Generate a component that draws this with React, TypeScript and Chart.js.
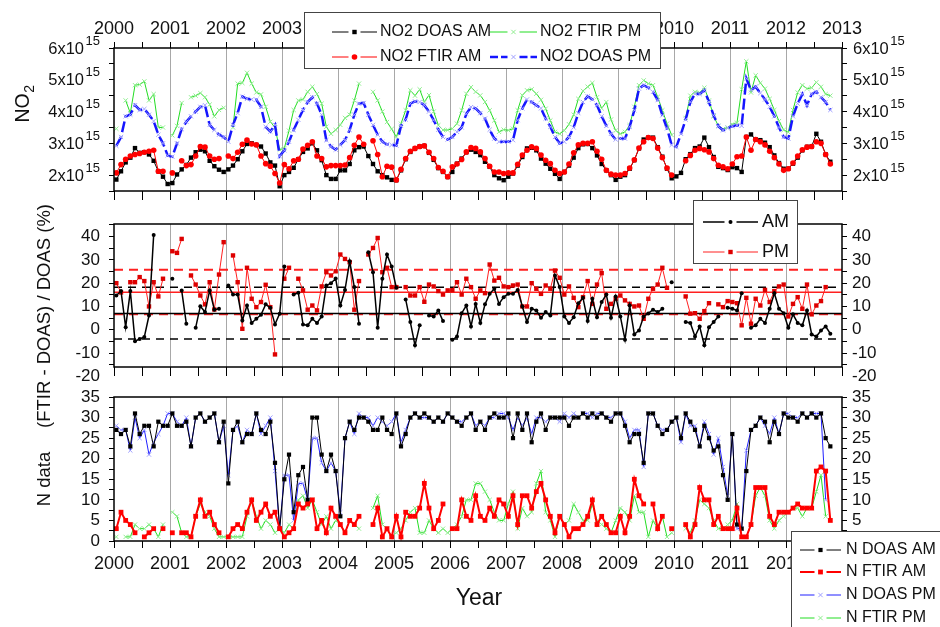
import React, { useEffect, useRef } from 'react';
import { Chart, registerables } from 'chart.js';

Chart.register(...registerables);

const FONT = '"Liberation Sans", Arial, Helvetica, sans-serif';

// ---------- categories / ticks ----------
const FIRST_YEAR = 2000;
const LAST_YEAR = 2013;
const N_MONTHS = 156; // Jan 2000 .. Dec 2012
const MONTH_X: number[] = Array.from({ length: N_MONTHS }, (_, i) => FIRST_YEAR + (i + 0.5) / 12);
const X_TICKS: number[] = [];
for (let v = FIRST_YEAR; v <= LAST_YEAR + 1e-9; v += 0.5) X_TICKS.push(v);

const TOP_Y_TICKS = [1.5, 2, 2.5, 3, 3.5, 4, 4.5, 5, 5.5, 6];
const TOP_Y_LABELS = [2, 3, 4, 5, 6]; // x10^15
const MID_Y_TICKS = [-15, -10, -5, 0, 5, 10, 15, 20, 25, 30, 35, 40, 45];
const MID_EXTRA_LABEL = -20;
const BOT_Y_TICKS = [0, 2.5, 5, 7.5, 10, 12.5, 15, 17.5, 20, 22.5, 25, 27.5, 30, 32.5, 35];

// ---------- top panel: NO2 columns (units of 1e15) ----------
const NO2_DOAS_AM = [
  1.86, 2.12, 2.4, 2.55, 2.85, 2.7, 2.72, 2.65, 2.45, 2.12, 1.95, 1.72,
  1.75, 2.02, 2.18, 2.32, 2.55, 2.72, 2.8, 2.75, 2.45, 2.28, 2.17, 2.1,
  2.18, 2.3, 2.5, 2.75, 2.98, 3.0, 2.95, 2.9, 2.68, 2.4, 2.3, 1.65,
  2.0, 2.1, 2.23, 2.5, 2.73, 2.84, 3.0, 2.78, 2.47, 2.0, 1.88, 1.88,
  2.15, 2.15, 2.35, 2.78, 2.88, 2.9, 2.6, 2.35, 2.12, 2.0, 1.93, 1.85,
  1.84, 2.15, 2.5, 2.73, 2.84, 2.9, 2.92, 2.7, 2.48, 2.22, 2.1, 1.94,
  2.1, 2.36, 2.52, 2.72, 2.8, 2.73, 2.63, 2.42, 2.26, 2.0, 1.9, 1.84,
  1.95, 2.05, 2.3, 2.57, 2.84, 2.86, 2.78, 2.52, 2.36, 2.2, 2.04, 1.88,
  2.1, 2.3, 2.55, 2.85, 2.97, 2.98, 2.85, 2.62, 2.35, 2.15, 2.0, 1.85,
  1.95, 2.0, 2.2, 2.47, 2.84, 3.12, 3.18, 3.18, 2.88, 2.58, 2.2, 1.9,
  1.96, 2.07, 2.5, 2.66, 2.85, 2.9, 3.18, 2.88, 2.57, 2.26, 2.22, 2.16,
  2.25, 2.22, 2.1, 3.2, 3.28, 3.12, 3.1, 3.02, 2.88, 2.62, 2.38, 2.2,
  2.2, 2.36, 2.55, 2.78, 2.89, 2.9, 3.3, 3.05, 2.65, 2.42, null, null,
];
const NO2_FTIR_AM = [
  2.07, 2.33, 2.5, 2.6, 2.65, 2.68, 2.72, 2.75, 2.78, 2.12, 2.12, null,
  2.07, null, 2.45, 2.3, 2.33, 2.6, 2.9, 2.88, 2.6, 2.5, 2.52, null,
  2.6, 2.52, 2.72, 2.97, 3.1, 2.98, 2.95, 2.6, 2.36, 2.28, 2.05, 1.75,
  2.33, 2.2, 2.45, 2.5, 2.82, 2.94, 3.05, 2.6, 2.52, 2.26, 2.3, 2.3,
  2.3, 2.32, 2.55, 2.94, 3.2, 2.97, null, 3.08, 2.65, 1.95, 2.28, 2.25,
  1.85, 2.18, 2.52, 2.75, 2.84, 2.9, 2.92, 2.72, 2.52, 2.24, 2.12, 1.95,
  2.26, 2.35, 2.49, 2.73, 2.87, 2.84, 2.73, 2.52, 2.28, 2.1, 2.1, 2.05,
  2.07, 2.07, 2.34, 2.63, 2.78, 2.89, 2.84, 2.63, 2.47, 2.36, 2.15, 2.05,
  2.1, 2.35, 2.7, 2.95, 3.0, 3.0, 3.05, 2.75, 2.5, 2.15, 2.03, 2.0,
  2.0, 2.05, 2.22, 2.48, 2.85, 3.05, 3.18, 3.15, 2.85, 2.55, 2.22, 2.0,
  null, null, 2.45, 2.62, 2.78, 2.84, 2.8, 2.73, 2.52, 2.31, 2.26, 2.2,
  2.35, 2.58, 2.6, 3.2, 2.78, 3.12, 3.05, 2.95, 2.75, 2.55, 2.35, 2.15,
  2.2, 2.38, 2.6, 2.8, 2.88, 2.9, 3.05, 3.0, 2.65, 2.35, null, null,
];
const NO2_DOAS_PM = [
  2.92, 3.2, 3.85, 3.9, 4.2, 4.05, 4.08, 3.9, 3.7, 3.27, 3.0, 2.62,
  2.58, 3.0, 3.45, 3.68, 3.85, 4.0, 4.15, 4.2, 3.58, 3.42, 3.27, 3.2,
  3.05, 3.58, 3.95, 4.47, 4.4, 4.38, 4.37, 4.15, 3.52, 3.37, 3.58, 2.6,
  2.78, 3.05, 3.42, 3.74, 4.05, 4.3, 4.45, 4.25, 3.9, 3.1, 2.9, 2.8,
  2.95, 3.1, 3.42, 3.9, 4.25, 4.27, 3.9, 3.58, 3.27, 3.05, 2.97, 2.95,
  2.93, 3.55, 3.75, 4.25, 4.32, 4.3, 4.2, 4.0, 3.73, 3.43, 3.2, 3.12,
  3.2, 3.36, 3.5, 3.93, 4.14, 4.1, 3.95, 3.78, 3.43, 3.15, 3.05, 3.05,
  3.05, 3.1, 3.73, 4.1, 4.38, 4.3, 4.2, 4.1, 3.78, 3.52, 3.2, 3.0,
  3.05, 3.2, 3.5, 3.95, 4.3, 4.48, 4.38, 4.2, 3.85, 3.55, 3.3, 3.12,
  3.15, 3.15, 3.52, 4.04, 4.72, 4.83, 4.75, 4.62, 4.36, 3.88, 3.47, 2.95,
  2.89, 3.3, 3.75, 4.3, 4.56, 4.55, 4.67, 4.3, 3.88, 3.54, 3.41, 3.48,
  3.54, 3.57, 3.55, 5.04, 4.67, 4.78, 4.58, 4.38, 4.15, 3.85, 3.5, 3.2,
  3.15, 3.85, 4.25, 4.55, 4.2, 4.55, 4.62, 4.45, 4.3, 4.05, null, null,
];
const NO2_FTIR_PM = [
  3.46, null, 4.35, 3.95, 4.83, 4.85, 4.95, 4.35, 4.55, 3.5, 3.5, null,
  3.25, 3.55, 4.27, null, 4.45, 4.5, 4.58, 4.45, 4.22, 3.85, 4.05, 4.12,
  null, 3.5, 4.88, 4.9, 5.22, 4.88, 4.6, 4.54, 4.15, 3.68, 3.5, 2.8,
  2.85, 3.4, 4.05, 4.35, 4.38, 4.62, 4.78, 4.55, 4.25, 3.52, 3.3, 3.42,
  3.58, 3.8, 3.9, 4.35, 4.88, null, null, 4.62, 4.35, 4.0, 3.67, 3.45,
  3.2, 3.62, 4.04, 4.67, 4.5, 4.7, 4.3, 4.52, 4.0, 3.57, 3.42, 3.42,
  3.46, 3.62, 4.04, 4.56, 4.77, 4.62, 4.51, 4.3, 4.04, 3.72, 3.36, 3.43,
  3.41, 3.46, 4.04, 4.51, 4.67, 4.7, 4.56, 4.37, 4.09, 3.72, 3.36, 3.3,
  3.4, 3.6, 3.9, 4.4, 4.65, 4.78, 4.9, 4.45, 4.1, 4.3, 3.75, 3.4,
  3.3, 3.36, 3.57, 4.15, 4.83, 4.98, 4.88, 4.83, 4.46, 4.04, 3.62, 3.26,
  null, null, 3.8, 4.5, 4.62, 4.6, 4.75, 4.35, 3.85, 3.55, 3.45, 3.5,
  3.6, 3.65, 4.7, 5.58, 4.6, 5.14, 4.9, 4.72, 4.4, 4.05, 3.7, 3.42,
  3.35, 4.05, 4.6, 4.83, 4.72, 4.75, 4.92, 4.78, 4.55, 4.5, null, null,
];

// ---------- middle panel: relative difference (%) ----------
const DIFF_AM = [
  14.7, 16.6, 1.1, 16.6, -4.9, -4, -3.1, 6.1, 40.7, null, null, null,
  21.9, null, 16.9, 2.6, null, 0.9, 10.1, 7.6, 16.9, 8.6, 9.0, null,
  19, 15.1, 15.1, 4, 10.4, 2.9, 4.7, 6.4, 10.9, 9.4, 2.3, 6.9,
  27.1, null, 15.1, 15.9, 2.3, 1.9, 4.7, 2.9, 5.7, 19, 20, 22,
  10.4, 17.1, 29.4, 18.3, 2.6, null, 33.3, 24.7, 0.9, 21.9, 32.3, 27.1,
  18, null, 13, 3.3, -6.7, 1.9, null, 6.1, 5.7, 8.3, 3.7, null,
  -4.3, -2.9, 7.1, 10.4, 1.4, 11.1, 2.9, 10.9, 15.4, 17.6, 11.1, 14,
  15.4, 15.4, 17.1, 10, 3.3, 9, 8.3, 5.1, 7.6, 6.1, 23.3, 18.3,
  5.7, 2.9, 5.4, 11.4, 13.7, 3.7, 13.3, 5.4, 11.9, 15.1, 5.1, 14.3,
  5.7, -4.3, 10.4, -2, -0.3, 5.7, 7, 8.6, 7.6, 9, null, 20.4,
  null, null, 3.3, 2.9, -2.9, 1.4, -6.7, 1.1, 3.3, 5.7, null, 9.4,
  9, 8.3, 15.7, null, 0.9, 1.9, 4.7, 2.9, 9, 15.7, 9, 7.1,
  0.9, 6.6, 2.9, 1.9, 8.3, -2, -2.9, -0.3, 1.4, -1.7, null, null,
];
const DIFF_PM = [
  20, 16, null, 20.4, 20.4, 22.6, 20.9, 10, 20.4, 14.3, 21.9, null,
  33.7, 33, 39, null, 23.3, 19.4, 14.7, 10.9, 20.4, 8.7, 23.7, 37.6,
  null, 31.9, 20.4, 0.4, 26.6, 13.3, 9.7, 11.9, 19.3, 9.7, -10.6, null,
  21.9, 26.6, null, 21.9, 16.9, 8.6, 10.4, 8.3, 18.6, 24.7, 23.3, 25.1,
  32.3, 30.4, 29, 8.6, 20.9, null, 32.3, 35.1, 39.4, 24.7, 26.6, 18.3,
  18.3, null, 18.3, 14.7, 14.7, 18.3, 12, 19.4, 18.6, 16.6, 15.1, 16.9,
  17, 20.4, 15.1, 21.9, 18.3, 13.3, 16.9, 15.7, 28, 21.1, 22.3, 18.6,
  18.3, 19, 19.4, 10, 10, 20, 17.6, 15.4, 19, 17.6, 25.4, 22.3,
  15.1, 18.6, 13.7, 9.7, 14, 20.9, 11.1, 19.4, 24.3, 9, 11.1, 13.3,
  14.7, 12.6, 11.1, 10, 10.4, 4.7, 13.3, 17.6, 19.4, 26.6, 18, null,
  null, null, 14.3, 6.9, 7.1, 4.7, 8, 11.4, null, 10.9, 9.7, 12.3,
  11.9, 11.4, 1.9, 13.7, 2.6, 13.3, 10.4, 17.1, 11.9, 16.6, 18.6, 19.4,
  5.7, 11.1, 14, 9, 19.4, 6.6, 10.4, 12.3, 18.3, null, null, null,
];
const AM_MEAN = 7.0;
const AM_LIMITS = [18.2, -4.0];
const PM_MEAN = 16.1;
const PM_LIMITS = [25.8, 6.6];

// ---------- bottom panel: number of data ----------
const N_DOAS_AM = [
  27, 26, 27, 23, 31, 26, 28, 28, 23, 29, 28, 28,
  31, 28, 28, 29, 23, 30, 31, 29, 30, 31, 24, 29,
  14, 27, 29, 24, 26, 26, 31, 27, 26, 29, 19, 3,
  15, 21, 7, 16, 18, 10, 30, 30, 21, 17, 21, 17,
  6, 25, 29, 27, 30, 30, 29, 27, 27, 30, 27, 26,
  31, 23, 26, 30, 31, 30, 31, 30, 29, 30, 29, 31,
  30, 29, 28, 30, 31, 27, 29, 27, 30, 31, 30, 30,
  31, 25, 31, 27, 31, 24, 29, 31, 27, 30, 30, 30,
  30, 28, 30, 30, 31, 30, 31, 30, 31, 30, 29, 31,
  31, 28, 24, 26, 26, 19, 31, 31, 28, 26, 27, 29,
  30, 25, 31, 29, 27, 23, 28, 25, 22, 23, 16, 10,
  26, 4, 3, 17, 27, 28, 30, 29, 24, 29, 26, 31,
  30, 30, 29, 31, 30, 31, 30, 31, 25, 23, null, null,
];
const N_FTIR_AM = [
  3, 7, 5, 4, 2, null, 1, 2, 3, null, 3, null,
  2, null, 2, 2, 1, 6, 10, 6, 7, 4, 2, null,
  1, 3, 4, 3, 7, 10, 5, 7, 9, 6, 7, 3,
  1, 2, 3, 9, 8, 9, 10, 3, 5, 2, 8, 6,
  4, 2, 5, 4, 6, null, null, 4, 8, 1, 3, 1,
  6, 1, 7, 6, 6, 8, 14, 8, 3, 5, 9, null,
  3, 3, 10, 6, 5, 11, 6, 5, 8, 6, 10, 9,
  6, 11, 4, 11, 11, 8, 12, 14, 10, 6, 2, 6,
  4, 1, 3, 3, 4, 6, 10, 4, 6, 4, 2, 2,
  6, 2, 6, 15, 11, 9, null, 9, 3, 6, null, 3,
  null, null, 4, 1, 4, 13, 10, 10, 4, 6, 3, 3,
  3, 8, 1, 1, 4, 13, 13, 13, 6, 4, 7, 7,
  7, 8, 9, 8, 8, 8, 17, 18, 17, 5, null, null,
];
const N_DOAS_PM = [
  28, 27, 27, 22, 30, 25, 27, 21, 24, 26, 28, 31,
  31, 29, 28, 30, 23, 30, 31, 29, 30, 31, 24, 28,
  16, 27, 28, 24, 27, 26, 31, 26, 28, 30, 17, 3,
  16, 16, 5, 14, 14, 10, 25, 25, 19, 17, 19, 17,
  7, 25, 29, 26, 31, 30, 30, 28, 30, 29, 28, 29,
  31, 24, 27, 30, 31, 30, 30, 30, 29, 30, 29, 31,
  30, 29, 29, 30, 31, 28, 29, 28, 30, 30, 31, 31,
  30, 27, 30, 28, 30, 26, 30, 30, 29, 30, 30, 29,
  31, 30, 31, 30, 31, 31, 30, 31, 31, 30, 30, 31,
  31, 29, 25, 27, 27, 18, 31, 31, 28, 27, 27, 29,
  30, 24, 31, 28, 28, 23, 29, 26, 21, 25, 18, 11,
  26, 3, 3, 22, 27, 28, 30, 28, 26, 30, 26, 31,
  31, 30, 30, 31, 30, 31, 31, 31, 10, null, null, null,
];
const N_FTIR_PM = [
  1, null, 1, 1, 4, 3, 3, 4, 3, 1, 4, null,
  7, 6, 2, 1, 1, 6, 9, 7, 6, 3, 1, 1,
  1, 1, 1, 1, 6, 10, 6, 3, 5, 4, 2, 3,
  2, 4, 3, 10, 11, 8, 10, 7, 4, 6, 3, 5,
  4, 2, 5, 4, 3, null, null, 8, 11, 4, 3, 1,
  2, 3, 5, 7, 8, 2, 2, 5, 3, 2, 3, 2,
  3, 4, 6, 10, 10, 14, 14, 12, 10, 7, 5, 5,
  9, 12, 3, 8, 6, 7, 14, 17, 7, 5, 1, 6,
  4, 5, 9, 7, 5, 5, 9, 5, 4, 3, 2, 5,
  8, 7, 5, 11, 7, 7, 1, 5, 3, 6, 1, 2,
  null, null, 3, 2, 5, 10, 9, 8, 5, 3, 3, 4,
  5, 9, 1, 1, 4, 11, 13, 11, 5, 3, 5, 6,
  7, 8, 8, 6, 8, 8, 12, 16, 6, null, null, null,
];

// ---------- styles ----------
type Sty = { line: string; width: number; dash: number[]; marker: 'rect' | 'circle' | 'x'; mColor: string; mSize: number };
const ST_DOAS_AM: Sty = { line: '#000000', width: 1, dash: [], marker: 'rect', mColor: '#000000', mSize: 2.2 };
const ST_FTIR_AM: Sty = { line: '#ff0000', width: 1, dash: [], marker: 'circle', mColor: '#ff0000', mSize: 2.8 };
const ST_DOAS_PM: Sty = { line: '#1515ff', width: 2.5, dash: [11, 4], marker: 'x', mColor: '#a0a0ff', mSize: 3 };
const ST_FTIR_PM: Sty = { line: '#22dd22', width: 1, dash: [], marker: 'x', mColor: '#90ee90', mSize: 3 };
const ST_MID_AM: Sty = { line: '#000000', width: 1.5, dash: [], marker: 'circle', mColor: '#000000', mSize: 2 };
const ST_MID_PM: Sty = { line: '#ff2020', width: 1, dash: [], marker: 'rect', mColor: '#dd0000', mSize: 2.2 };
const ST_N_DOAS_AM: Sty = { line: '#000000', width: 1, dash: [], marker: 'rect', mColor: '#000000', mSize: 2.1 };
const ST_N_FTIR_AM: Sty = { line: '#ff0000', width: 2, dash: [], marker: 'rect', mColor: '#ff0000', mSize: 2.4 };
const ST_N_DOAS_PM: Sty = { line: '#2020ff', width: 1, dash: [], marker: 'x', mColor: '#a0a0ff', mSize: 3 };
const ST_N_FTIR_PM: Sty = { line: '#22dd22', width: 1, dash: [], marker: 'x', mColor: '#90ee90', mSize: 3 };

const pts = (arr: (number | null)[]) => arr.map((v, i) => ({ x: MONTH_X[i], y: v }));
const hline = (v: number) => [{ x: FIRST_YEAR, y: v }, { x: LAST_YEAR, y: v }];

function ds(label: string, arr: (number | null)[], s: Sty) {
  const chartStyle = s.marker === 'x' ? 'crossRot' : s.marker === 'rect' ? 'rect' : 'circle';
  const r = s.marker === 'rect' ? s.mSize * 1.414 : s.mSize;
  return {
    label,
    data: pts(arr),
    borderColor: s.line,
    borderWidth: s.width,
    borderDash: s.dash,
    pointStyle: chartStyle,
    pointRadius: r,
    pointBackgroundColor: s.mColor,
    pointBorderColor: s.mColor,
    pointBorderWidth: s.marker === 'x' ? 1 : 0,
    spanGaps: false,
    tension: 0,
    fill: false,
    xAxisID: 'x',
    yAxisID: 'y',
  };
}
function refLine(v: number, color: string, width: number, dash: number[]) {
  return {
    label: 'ref',
    data: hline(v),
    borderColor: color,
    borderWidth: width,
    borderDash: dash,
    pointRadius: 0,
    fill: false,
    xAxisID: 'x',
    yAxisID: 'y',
  };
}

// ---------- drawing helpers ----------
function drawMarker(ctx: CanvasRenderingContext2D, s: Sty, x: number, y: number) {
  ctx.save();
  ctx.setLineDash([]);
  if (s.marker === 'rect') {
    ctx.fillStyle = s.mColor;
    ctx.fillRect(x - s.mSize, y - s.mSize, s.mSize * 2, s.mSize * 2);
  } else if (s.marker === 'circle') {
    ctx.fillStyle = s.mColor;
    ctx.beginPath();
    ctx.arc(x, y, s.mSize, 0, Math.PI * 2);
    ctx.fill();
  } else {
    ctx.strokeStyle = s.mColor;
    ctx.lineWidth = 1;
    const d = s.mSize * 0.72;
    ctx.beginPath();
    ctx.moveTo(x - d, y - d); ctx.lineTo(x + d, y + d);
    ctx.moveTo(x - d, y + d); ctx.lineTo(x + d, y - d);
    ctx.stroke();
  }
  ctx.restore();
}
function drawSample(ctx: CanvasRenderingContext2D, s: Sty, x0: number, x1: number, y: number) {
  const mid = (x0 + x1) / 2;
  ctx.save();
  ctx.strokeStyle = s.line;
  ctx.lineWidth = s.width;
  ctx.setLineDash(s.dash.length ? [8, 3] : []);
  ctx.beginPath();
  ctx.moveTo(x0, y); ctx.lineTo(mid - 6, y);
  ctx.moveTo(mid + 6, y); ctx.lineTo(x1, y);
  ctx.stroke();
  ctx.restore();
  drawMarker(ctx, s, mid, y);
}
function drawBox(ctx: CanvasRenderingContext2D, x: number, y: number, w: number, h: number) {
  ctx.save();
  ctx.fillStyle = '#ffffff';
  ctx.fillRect(x, y, w, h);
  ctx.strokeStyle = '#444444';
  ctx.lineWidth = 1;
  ctx.strokeRect(x + 0.5, y + 0.5, w, h);
  ctx.restore();
}
function text(ctx: CanvasRenderingContext2D, t: string, x: number, y: number, size: number, align: CanvasTextAlign = 'left') {
  ctx.save();
  ctx.fillStyle = '#111111';
  ctx.font = `${size}px ${FONT}`;
  ctx.textAlign = align;
  ctx.textBaseline = 'middle';
  ctx.fillText(t, x, y);
  ctx.restore();
}
function vtext(ctx: CanvasRenderingContext2D, t: string, cx: number, cy: number, size: number) {
  ctx.save();
  ctx.translate(cx, cy);
  ctx.rotate(-Math.PI / 2);
  ctx.fillStyle = '#111111';
  ctx.font = `${size}px ${FONT}`;
  ctx.textAlign = 'center';
  ctx.textBaseline = 'middle';
  ctx.fillText(t, 0, 0);
  ctx.restore();
}
function frame(chart: any) {
  const a = chart.chartArea;
  const ctx = chart.ctx;
  ctx.save();
  ctx.strokeStyle = '#000000';
  ctx.lineWidth = 1.5;
  ctx.strokeRect(a.left, a.top, a.right - a.left, a.bottom - a.top);
  ctx.restore();
}

// ---------- shared axis builders ----------
const isYear = (v: number) => Math.abs(v - Math.round(v)) < 1e-6;
const gridColor = (c: any) =>
  c.tick && isYear(c.tick.value) && c.tick.value > FIRST_YEAR && c.tick.value < LAST_YEAR ? '#a8a8a8' : 'rgba(0,0,0,0)';

function xAxis(position: 'top' | 'bottom', height: number, opts: { grid: boolean; ticks: boolean; tickLen: number; labels: boolean; pad?: number }) {
  return {
    type: 'linear',
    axis: 'x',
    position,
    min: FIRST_YEAR,
    max: LAST_YEAR,
    afterBuildTicks: (s: any) => { s.ticks = X_TICKS.map((v) => ({ value: v })); },
    afterFit: (s: any) => { s.height = height; },
    border: { display: false },
    grid: {
      display: true,
      drawOnChartArea: opts.grid,
      drawTicks: opts.ticks,
      color: gridColor,
      lineWidth: 1,
      tickColor: '#000000',
      tickWidth: 1,
      tickLength: opts.tickLen,
    },
    ticks: {
      display: opts.labels,
      autoSkip: false,
      maxRotation: 0,
      minRotation: 0,
      padding: opts.pad ?? 4,
      color: '#111111',
      font: { size: 18, family: FONT },
      callback: (v: number) => (isYear(v) ? String(Math.round(v)) : ''),
    },
  };
}
function yAxis(position: 'left' | 'right', min: number, max: number, ticks: number[], labels: boolean, labelEvery: number) {
  return {
    type: 'linear',
    axis: 'y',
    position,
    min,
    max,
    afterBuildTicks: (s: any) => { s.ticks = ticks.map((v) => ({ value: v })); },
    afterFit: (s: any) => { s.width = position === 'left' ? 114 : 98; },
    border: { display: false },
    grid: { display: true, drawOnChartArea: false, drawTicks: true, tickColor: '#000000', tickWidth: 1, tickLength: 5 },
    ticks: {
      display: labels,
      autoSkip: false,
      padding: position === 'left' ? 9 : 5,
      color: '#111111',
      font: { size: 17, family: FONT },
      callback: (v: number) => (Math.abs(v % labelEvery) < 1e-6 ? String(v) : ''),
    },
  };
}
const baseOptions = (padTop: number, padBottom: number) => ({
  animation: false,
  responsive: false,
  maintainAspectRatio: false,
  events: [],
  layout: { padding: { top: padTop, bottom: padBottom, left: 0, right: 0 } },
  plugins: { legend: { display: false }, tooltip: { enabled: false }, title: { display: false } },
});

// ---------- chart configs ----------
function configTop(): any {
  const decor = {
    id: 'topDecor',
    afterDraw(chart: any) {
      const ctx = chart.ctx as CanvasRenderingContext2D;
      frame(chart);
      const ys = chart.scales.y;
      const drawSci = (v: number, x: number, side: 'left' | 'right') => {
        const py = ys.getPixelForValue(v);
        const main = `${v}x10`;
        ctx.save();
        ctx.fillStyle = '#111111';
        ctx.textBaseline = 'middle';
        ctx.textAlign = 'left';
        ctx.font = `16.5px ${FONT}`;
        const wm = ctx.measureText(main).width;
        ctx.font = `13px ${FONT}`;
        const wsup = ctx.measureText('15').width;
        const gap = 1.5;
        const x0 = side === 'left' ? x - wsup - gap - wm : x;
        ctx.font = `16.5px ${FONT}`;
        ctx.fillText(main, x0, py + 1);
        ctx.font = `13px ${FONT}`;
        ctx.fillText('15', x0 + wm + gap, py - 7);
        ctx.restore();
      };
      for (const v of TOP_Y_LABELS) {
        drawSci(v, 100, 'left');
        drawSci(v, 853, 'right');
      }
      // NO2 title with subscript
      ctx.save();
      ctx.translate(24, 104);
      ctx.rotate(-Math.PI / 2);
      ctx.fillStyle = '#111111';
      ctx.textBaseline = 'middle';
      ctx.textAlign = 'left';
      ctx.font = `19.5px ${FONT}`;
      const wNO = ctx.measureText('NO').width;
      ctx.font = `14px ${FONT}`;
      const w2 = ctx.measureText('2').width;
      const start = -(wNO + w2) / 2;
      ctx.font = `19.5px ${FONT}`;
      ctx.fillText('NO', start, 0);
      ctx.font = `14px ${FONT}`;
      ctx.fillText('2', start + wNO + 0.5, 6);
      ctx.restore();
      // legend
      drawBox(ctx, 304, 12, 356, 56);
      drawSample(ctx, ST_DOAS_AM, 332, 377, 32);
      text(ctx, 'NO2 DOAS AM', 380, 32, 16);
      drawSample(ctx, ST_FTIR_AM, 332, 377, 57);
      text(ctx, 'NO2 FTIR AM', 380, 57, 16);
      drawSample(ctx, ST_FTIR_PM, 490, 537, 32);
      text(ctx, 'NO2 FTIR PM', 540, 32, 16);
      drawSample(ctx, ST_DOAS_PM, 490, 537, 57);
      text(ctx, 'NO2 DOAS PM', 540, 57, 16);
    },
  };
  return {
    type: 'line',
    data: {
      datasets: [
        ds('NO2 FTIR AM', NO2_FTIR_AM, ST_FTIR_AM),
        ds('NO2 DOAS AM', NO2_DOAS_AM, ST_DOAS_AM),
        ds('NO2 DOAS PM', NO2_DOAS_PM, ST_DOAS_PM),
        ds('NO2 FTIR PM', NO2_FTIR_PM, ST_FTIR_PM),
      ],
    },
    options: {
      ...baseOptions(0, 627 - 191 - 10),
      scales: {
        x: xAxis('bottom', 10, { grid: true, ticks: true, tickLen: 9, labels: false }),
        xTop: xAxis('top', 48, { grid: false, ticks: true, tickLen: 6, labels: true, pad: 2 }),
        y: yAxis('left', 1.5, 6, TOP_Y_TICKS, false, 1),
        yRight: yAxis('right', 1.5, 6, TOP_Y_TICKS, false, 1),
      },
    },
    plugins: [decor],
  };
}

function configMid(): any {
  const decor = {
    id: 'midDecor',
    afterDraw(chart: any) {
      const ctx = chart.ctx as CanvasRenderingContext2D;
      frame(chart);
      const py = chart.scales.y.getPixelForValue(MID_EXTRA_LABEL);
      text(ctx, String(MID_EXTRA_LABEL), 100, py, 17, 'right');
      text(ctx, String(MID_EXTRA_LABEL), 852, py, 17, 'left');
      vtext(ctx, '(FTIR - DOAS) / DOAS (%)', 45, 316, 18.5);
      drawBox(ctx, 693, 200, 104, 63);
      drawSample(ctx, ST_MID_AM, 703, 758, 222);
      text(ctx, 'AM', 762, 222, 18);
      drawSample(ctx, ST_MID_PM, 703, 758, 252);
      text(ctx, 'PM', 762, 252, 18);
    },
  };
  return {
    type: 'line',
    data: {
      datasets: [
        ds('AM', DIFF_AM, ST_MID_AM),
        ds('PM', DIFF_PM, ST_MID_PM),
        refLine(AM_MEAN, '#000000', 1.5, []),
        refLine(PM_MEAN, '#ff2020', 1.5, []),
        refLine(AM_LIMITS[0], '#000000', 1.5, [8, 6]),
        refLine(AM_LIMITS[1], '#000000', 1.5, [8, 6]),
        refLine(PM_LIMITS[0], '#ff2020', 2, [9, 6]),
        refLine(PM_LIMITS[1], '#ff2020', 2, [9, 6]),
      ],
    },
    options: {
      ...baseOptions(224 - 12, 627 - 367 - 10),
      scales: {
        x: xAxis('bottom', 10, { grid: true, ticks: true, tickLen: 9, labels: false }),
        xTop: xAxis('top', 12, { grid: false, ticks: false, tickLen: 0, labels: false }),
        y: yAxis('left', -16, 45.4, MID_Y_TICKS, true, 10),
        yRight: yAxis('right', -16, 45.4, MID_Y_TICKS, true, 10),
      },
    },
    plugins: [decor],
  };
}

function configBottom(): any {
  const decor = {
    id: 'botDecor',
    afterDraw(chart: any) {
      const ctx = chart.ctx as CanvasRenderingContext2D;
      frame(chart);
      vtext(ctx, 'N data', 45, 479, 18.5);
      text(ctx, 'Year', 479, 599, 23, 'center');
      drawBox(ctx, 791, 531, 170, 110);
      const rows: [Sty, string, number][] = [
        [ST_N_DOAS_AM, 'N DOAS AM', 550],
        [ST_N_FTIR_AM, 'N FTIR AM', 572],
        [ST_N_DOAS_PM, 'N DOAS PM', 595],
        [ST_N_FTIR_PM, 'N FTIR PM', 618],
      ];
      for (const [s, t, y] of rows) {
        drawSample(ctx, s, 800, 841, y);
        text(ctx, t, 846, y, 16);
      }
    },
  };
  return {
    type: 'line',
    data: {
      datasets: [
        ds('N FTIR AM', N_FTIR_AM, ST_N_FTIR_AM),
        ds('N DOAS AM', N_DOAS_AM, ST_N_DOAS_AM),
        ds('N DOAS PM', N_DOAS_PM, ST_N_DOAS_PM),
        ds('N FTIR PM', N_FTIR_PM, ST_N_FTIR_PM),
      ],
    },
    options: {
      ...baseOptions(397 - 12, 627 - 541 - 30),
      scales: {
        x: xAxis('bottom', 30, { grid: true, ticks: true, tickLen: 7, labels: true, pad: 5 }),
        xTop: xAxis('top', 12, { grid: false, ticks: false, tickLen: 0, labels: false }),
        y: yAxis('left', 0, 35, BOT_Y_TICKS, true, 5),
        yRight: yAxis('right', 0, 35, BOT_Y_TICKS, true, 5),
      },
    },
    plugins: [decor],
  };
}

export default function App() {
  const r1 = useRef<HTMLCanvasElement>(null);
  const r2 = useRef<HTMLCanvasElement>(null);
  const r3 = useRef<HTMLCanvasElement>(null);

  useEffect(() => {
    Chart.defaults.font.family = FONT;
    const charts = [
      new Chart(r1.current as HTMLCanvasElement, configTop()),
      new Chart(r2.current as HTMLCanvasElement, configMid()),
      new Chart(r3.current as HTMLCanvasElement, configBottom()),
    ];
    return () => charts.forEach((c) => c.destroy());
  }, []);

  const cs: React.CSSProperties = { position: 'absolute', left: 0, top: 0, width: 940, height: 627 };
  return (
    <div style={{ position: 'fixed', left: 0, top: 0, width: 940, height: 627, background: '#ffffff', overflow: 'hidden' }}>
      <canvas ref={r1} width={940} height={627} style={cs} />
      <canvas ref={r2} width={940} height={627} style={cs} />
      <canvas ref={r3} width={940} height={627} style={cs} />
    </div>
  );
}
